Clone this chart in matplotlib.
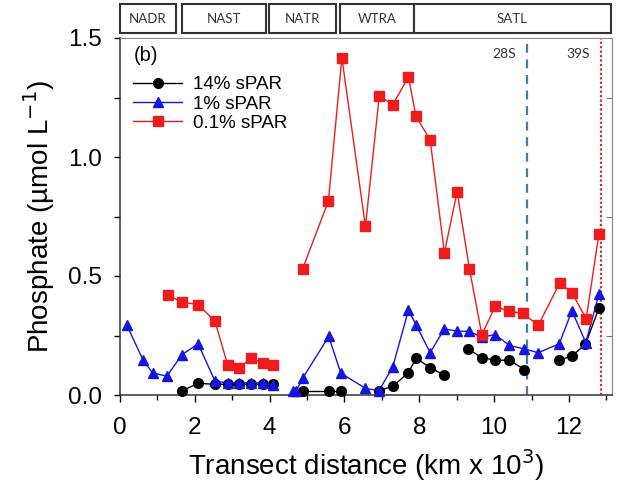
import matplotlib
matplotlib.use("Agg")
import numpy as np
import matplotlib.pyplot as plt
from matplotlib.patches import Rectangle
from matplotlib.transforms import blended_transform_factory
from matplotlib.ticker import MultipleLocator, FixedLocator

plt.rcParams['font.family'] = ['Liberation Sans', 'DejaVu Sans']

# --- data (transect distance in km x 10^3, phosphate in umol/L), one list per line segment ---
black_x = [[1.66, 2.09, 2.54, 2.88, 3.19, 3.50, 3.81, 4.08],
           [4.90, 5.58, 5.91],
           [6.92, 7.29, 7.71, 7.91, 8.29, 8.67],
           [9.30, 9.67, 10.03, 10.41, 10.81],
           [11.73, 12.08, 12.44, 12.80]]
black_y = [[0.018, 0.049, 0.045, 0.045, 0.045, 0.045, 0.045, 0.047],
           [0.018, 0.018, 0.018],
           [0.018, 0.037, 0.094, 0.155, 0.115, 0.083],
           [0.194, 0.157, 0.146, 0.146, 0.107],
           [0.146, 0.164, 0.213, 0.365]]

blue_x = [[0.18, 0.62, 0.87, 1.25, 1.66, 2.09, 2.54, 2.88, 3.19, 3.50, 3.81, 4.08],
          [4.62, 4.71, 4.88, 5.58, 5.90, 6.56, 6.92, 7.29, 7.71, 7.91, 8.29, 8.67,
           9.01, 9.32, 9.67, 10.03, 10.41, 10.79, 11.18, 11.74, 12.08, 12.45, 12.80]]
blue_y = [[0.294, 0.146, 0.093, 0.079, 0.170, 0.215, 0.058, 0.051, 0.051, 0.051, 0.051, 0.042],
          [0.018, 0.018, 0.070, 0.246, 0.092, 0.028, 0.018, 0.118, 0.357, 0.296, 0.178, 0.278,
           0.268, 0.268, 0.243, 0.254, 0.208, 0.194, 0.178, 0.215, 0.354, 0.220, 0.424]]

red_x = [[1.27, 1.66, 2.09, 2.54, 2.88, 3.19, 3.50, 3.81, 4.08],
         [4.88, 5.57, 5.93, 6.56, 6.93, 7.29, 7.71, 7.91, 8.29, 8.67, 9.01, 9.34,
          9.67, 10.03, 10.41, 10.77, 11.18, 11.75, 12.08, 12.46, 12.80]]
red_y = [[0.420, 0.390, 0.380, 0.310, 0.125, 0.115, 0.154, 0.135, 0.126],
         [0.530, 0.815, 1.417, 0.708, 1.257, 1.220, 1.336, 1.171, 1.072, 0.597, 0.854, 0.530,
          0.254, 0.372, 0.351, 0.343, 0.293, 0.470, 0.430, 0.320, 0.676]]

provinces = ["NADR", "NAST", "NATR", "WTRA", "SATL"]
prov_start = [0.0, 1.66, 3.99, 5.88, 7.86]
prov_end = [1.50, 3.90, 5.78, 7.86, 13.11]

lat_marks = ["28S", "39S"]
lat_x = [10.88, 12.86]

# --- figure ---
fig = plt.figure(figsize=(6.17, 4.99), dpi=100)
ax = fig.add_axes([120 / 617, 1 - 395 / 499, (612 - 120) / 617, (395 - 38) / 499])

series = [
    (black_x, black_y, "14% sPAR", dict(color="black", marker="o", ms=7, mfc="black", mec="black")),
    (blue_x, blue_y, "1% sPAR", dict(color="#1515e0", marker="^", ms=7, mfc="#1515e0", mec="#1515e0")),
    (red_x, red_y, "0.1% sPAR", dict(color="#ee1c1c", marker="s", ms=6.5, mfc="#ee1c1c", mec="#ee1c1c")),
]
for xs, ys, label, style in series:
    for i, (sx, sy) in enumerate(zip(xs, ys)):
        ax.plot(sx, sy, lw=1.0, clip_on=False, zorder=3,
                label=label if i == 0 else None, **style)

# latitude markers
ax.axvline(lat_x[0], color="#4a7ba6", ls=(0, (4, 3)), lw=1.6, zorder=2)
ax.axvline(lat_x[1], color="#d8262c", ls=(0, (1, 1)), lw=1.6, zorder=2)
for name, lx in zip(lat_marks, lat_x):
    ax.text(lx - 0.62, 0.955, name, transform=blended_transform_factory(ax.transData, ax.transAxes),
            ha="center", va="center", fontsize=10, family="Lato", color="#333333")

# province boxes above the axes
trans = blended_transform_factory(ax.transData, ax.transAxes)
for name, x0, x1 in zip(provinces, prov_start, prov_end):
    ax.add_patch(Rectangle((x0, 1.014), x1 - x0, 0.081, transform=trans, clip_on=False,
                           facecolor="white", edgecolor="#333333", lw=1.5))
    ax.text((x0 + x1) / 2, 1.0545, name, transform=trans, ha="center", va="center",
            fontsize=9.5, family="Lato", color="#333333")

ax.set_xlim(0, 13.15)
ax.set_ylim(0, 1.5)
ax.xaxis.set_major_locator(MultipleLocator(2))
ax.xaxis.set_minor_locator(MultipleLocator(1))
ax.yaxis.set_major_locator(MultipleLocator(0.5))
ax.yaxis.set_minor_locator(MultipleLocator(0.25))
ax.set_yticks([0, 0.5, 1.0, 1.5])
ax.set_yticklabels(["0.0", "0.5", "1.0", "1.5"])

ax.tick_params(axis="x", which="major", direction="out", length=5, width=1, labelsize=17.5, pad=11)
ax.tick_params(axis="x", which="minor", direction="out", length=3.5, width=1)
ax.tick_params(axis="y", which="both", direction="out", length=4, width=1, labelsize=17.5, pad=9)

right = ax.secondary_yaxis("right")
right.yaxis.set_major_locator(FixedLocator([0.25, 0.75, 1.25]))
right.tick_params(direction="in", length=4, width=0.8, color="#777777", labelright=False)
right.spines["right"].set_color("#888888")
right.spines["right"].set_linewidth(0.8)

for side in ["left", "bottom"]:
    ax.spines[side].set_color("#333333")
    ax.spines[side].set_linewidth(1.1)
for side in ["top", "right"]:
    ax.spines[side].set_color("#888888")
    ax.spines[side].set_linewidth(0.8)

ax.set_xlabel("Transect distance (km x 10$^3$)", fontsize=20, labelpad=6)
ax.set_ylabel("Phosphate (µmol L$^{-1}$)", fontsize=20, labelpad=8)

ax.text(0.028, 0.952, "(b)", transform=ax.transAxes, fontsize=14.5, ha="left", va="center")
ax.legend(loc="upper left", bbox_to_anchor=(0.0, 0.93), frameon=False, fontsize=13.5,
          handlelength=2.6, handletextpad=0.6, labelspacing=0.12, borderaxespad=0.3)

fig.savefig("out.png", dpi=100)
